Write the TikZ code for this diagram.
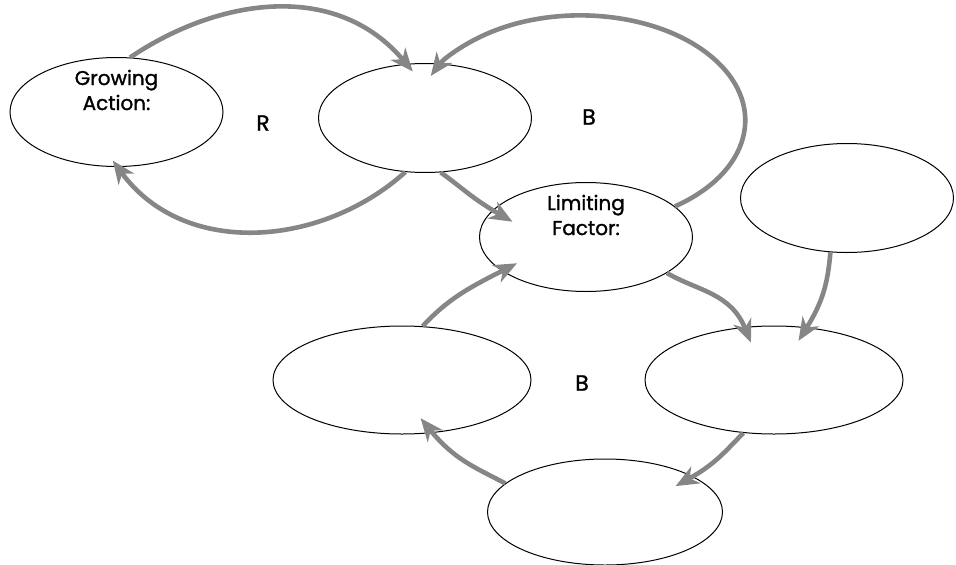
\documentclass[tikz,border=0pt]{standalone}
\usepackage{fontspec}
\setmainfont{Poppins}
\newfontfamily\comicfont{Poppins}[FakeBold=1.3]
\usetikzlibrary{arrows.meta,positioning,shapes.geometric}
\definecolor{loopgray}{HTML}{868686}
\definecolor{ink}{HTML}{000000}
\tikzset{
  varnode/.style={draw=ink, ellipse, line width=1pt, inner sep=0pt,
                  minimum width=213pt, minimum height=109pt},
  widenode/.style={varnode, minimum width=258pt, minimum height=108pt},
  nodetext/.style={align=center, font=\comicfont\fontsize{20}{25}\selectfont, yshift=22pt},
  looplabel/.style={font=\comicfont\fontsize{22}{24}\selectfont},
  link/.style={-{Stealth[length=23pt,width=19pt,inset=7pt]}, line width=4.6pt,
               draw=loopgray, shorten >=-16pt}
}
\begin{document}
\begin{tikzpicture}[x=1pt,y=1pt]
        \useasboundingbox (0,0) rectangle (956,-565);
        % variables
        \node[varnode, label={[nodetext]center:Growing\\Action:}] (ga) at (116.5,-112) {};
        \node[varnode] (mid) at (425,-118) {};
        \node[varnode, label={[nodetext]center:Limiting\\Factor:}] (lim) at (586,-237) {};
        \node[varnode] (ext) at (847,-198) {};
        \node[widenode] (bl) at (402,-380) {};
        \node[widenode] (br) at (774,-380) {};
        \node[varnode, minimum width=235pt, minimum height=106pt] (bot) at (605,-512) {};
        % loop signs
        \node[looplabel] (rloop) at (263,-123) {R};
        \node[looplabel] (bloopa) at (589,-117) {B};
        \node[looplabel] (bloopb) at (582,-383) {B};
        % reinforcing loop
        \draw[link, shorten >=-10pt] (ga.76) to[out=34,in=130] (mid.109);
        \draw[link, shorten >=-8pt] (mid.250) to[out=222,in=306] (ga.271);
        % upper balancing loop
        \draw[link, shorten >=-23pt] (mid.286) to[out=-35,in=150] (lim.164);
        \draw[link, shorten >=0pt] (lim.19)
          arc[start angle=-55, end angle=155, x radius=165, y radius=105];
        % lower balancing loop
        \draw[link, shorten >=-17pt] (bl.69) to[out=47,in=207] (lim.202);
        \draw[link, shorten >=-17pt] (lim.336) to[out=-30,in=112] (br.119);
        \draw[link] (ext.253) to[out=-95,in=58] (br.58);
        \draw[link, shorten >=-20pt] (br.240) to[out=225,in=29] (bot.22);
        \draw[link, shorten >=-19pt] (bot.164) to[out=152,in=309] (bl.300);
\end{tikzpicture}
\end{document}
